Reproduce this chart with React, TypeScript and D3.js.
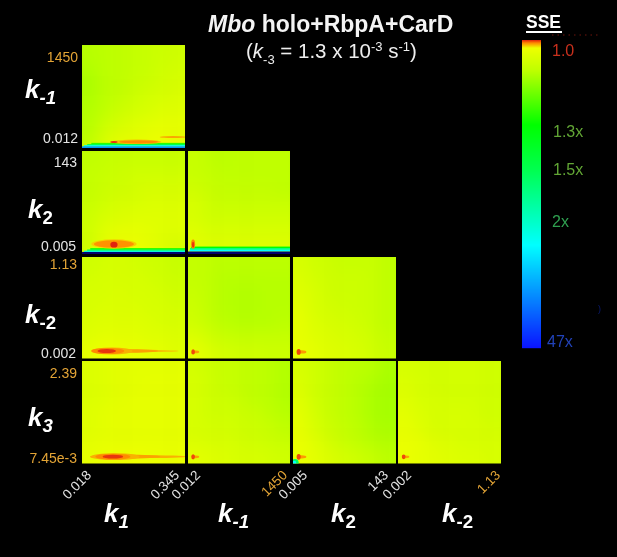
import React from "react";
import * as d3 from "d3";

const FONT = "'Liberation Sans', Arial, sans-serif";
const ORANGE = "#e3a436";
const PALE = "#e4e4e4";

const ratioStops = [1, 1.005, 1.02, 1.08, 1.3, 1.5, 2, 3, 47, 300];
const colorStops = ["#e2200c", "#ff8a00", "#eeff00", "#c0ff00", "#00ff00", "#00ff50", "#00ffc8", "#00ffff", "#0a14ff", "#00006e"];
const legendRatios = [1, 1.005, 1.02, 1.08, 1.3, 1.5, 2, 3, 47];
const legendPixels = [40, 43, 48, 70, 125, 170, 222, 245, 348];

const panelColumns = [[82, 185], [188, 290], [293, 396], [398, 501]];
const panelRows = [[45, 148], [151, 254], [257, 358.5], [361, 463.5]];

// relative SSE on a coarse log-log grid, top row first
const gridK1K1m = [
  [1.09, 1.085, 1.08, 1.075, 1.07, 1.065, 1.06],
  [1.095, 1.085, 1.08, 1.075, 1.07, 1.06, 1.055],
  [1.105, 1.085, 1.08, 1.07, 1.065, 1.055, 1.05],
  [1.10, 1.085, 1.075, 1.065, 1.055, 1.05, 1.045],
  [1.095, 1.08, 1.065, 1.055, 1.05, 1.04, 1.04],
  [1.09, 1.065, 1.05, 1.04, 1.035, 1.03, 1.03],
  [1.08, 1.05, 1.03, 1.03, 1.025, 1.02, 1.03],
];
const gridK1K2 = [
  [1.08, 1.075, 1.07, 1.07, 1.07, 1.07, 1.07],
  [1.075, 1.07, 1.065, 1.06, 1.06, 1.06, 1.06],
  [1.075, 1.065, 1.06, 1.055, 1.05, 1.05, 1.05],
  [1.07, 1.06, 1.05, 1.05, 1.045, 1.045, 1.045],
  [1.065, 1.05, 1.045, 1.04, 1.04, 1.04, 1.04],
  [1.06, 1.04, 1.03, 1.03, 1.035, 1.04, 1.04],
  [1.06, 1.03, 1.02, 1.02, 1.03, 1.04, 1.05],
];
const gridK1mK2 = [
  [1.07, 1.08, 1.085, 1.08, 1.08, 1.08, 1.08],
  [1.07, 1.075, 1.08, 1.08, 1.08, 1.08, 1.08],
  [1.06, 1.07, 1.075, 1.075, 1.075, 1.075, 1.08],
  [1.05, 1.065, 1.07, 1.07, 1.07, 1.07, 1.07],
  [1.05, 1.06, 1.06, 1.06, 1.06, 1.06, 1.06],
  [1.04, 1.05, 1.05, 1.05, 1.05, 1.05, 1.05],
  [1.03, 1.04, 1.04, 1.04, 1.04, 1.04, 1.04],
];
const gridK1K2m = [
  [1.06, 1.055, 1.05, 1.055, 1.06, 1.065, 1.07],
  [1.055, 1.05, 1.05, 1.05, 1.055, 1.06, 1.065],
  [1.05, 1.05, 1.045, 1.05, 1.05, 1.055, 1.06],
  [1.05, 1.045, 1.045, 1.045, 1.05, 1.05, 1.055],
  [1.045, 1.04, 1.04, 1.04, 1.045, 1.05, 1.05],
  [1.04, 1.035, 1.035, 1.035, 1.04, 1.04, 1.045],
  [1.03, 1.02, 1.02, 1.025, 1.03, 1.035, 1.04],
];
const gridK1mK2m = [
  [1.075, 1.08, 1.085, 1.085, 1.085, 1.085, 1.085],
  [1.075, 1.08, 1.09, 1.09, 1.09, 1.09, 1.09],
  [1.07, 1.08, 1.09, 1.095, 1.095, 1.09, 1.09],
  [1.065, 1.08, 1.09, 1.095, 1.095, 1.09, 1.09],
  [1.06, 1.075, 1.085, 1.09, 1.09, 1.09, 1.085],
  [1.045, 1.06, 1.07, 1.075, 1.075, 1.075, 1.075],
  [1.03, 1.045, 1.055, 1.06, 1.06, 1.065, 1.065],
];
const gridK2K2m = [
  [1.05, 1.06, 1.065, 1.07, 1.07, 1.07, 1.08],
  [1.045, 1.055, 1.06, 1.065, 1.065, 1.07, 1.08],
  [1.04, 1.05, 1.06, 1.065, 1.065, 1.07, 1.08],
  [1.035, 1.05, 1.055, 1.06, 1.065, 1.07, 1.08],
  [1.03, 1.045, 1.05, 1.055, 1.06, 1.07, 1.08],
  [1.03, 1.04, 1.045, 1.05, 1.055, 1.065, 1.075],
  [1.025, 1.035, 1.04, 1.045, 1.05, 1.06, 1.07],
];
const gridK1K3 = [
  [1.045, 1.04, 1.035, 1.035, 1.035, 1.035, 1.035],
  [1.045, 1.04, 1.035, 1.035, 1.03, 1.03, 1.03],
  [1.045, 1.04, 1.035, 1.03, 1.03, 1.03, 1.03],
  [1.04, 1.035, 1.03, 1.03, 1.03, 1.03, 1.03],
  [1.04, 1.035, 1.03, 1.03, 1.03, 1.03, 1.03],
  [1.035, 1.03, 1.03, 1.03, 1.03, 1.03, 1.03],
  [1.03, 1.025, 1.02, 1.02, 1.022, 1.025, 1.025],
];
const gridK1mK3 = [
  [1.055, 1.065, 1.07, 1.075, 1.08, 1.085, 1.095],
  [1.05, 1.06, 1.07, 1.075, 1.08, 1.085, 1.095],
  [1.05, 1.06, 1.065, 1.07, 1.08, 1.085, 1.095],
  [1.05, 1.06, 1.06, 1.065, 1.07, 1.08, 1.09],
  [1.05, 1.055, 1.055, 1.06, 1.065, 1.07, 1.08],
  [1.045, 1.05, 1.05, 1.055, 1.06, 1.065, 1.07],
  [1.035, 1.04, 1.045, 1.05, 1.05, 1.055, 1.06],
];
const gridK2K3 = [
  [1.05, 1.06, 1.07, 1.08, 1.085, 1.09, 1.105],
  [1.045, 1.06, 1.07, 1.08, 1.09, 1.10, 1.11],
  [1.04, 1.06, 1.07, 1.08, 1.09, 1.105, 1.11],
  [1.035, 1.055, 1.07, 1.08, 1.09, 1.105, 1.11],
  [1.03, 1.05, 1.065, 1.075, 1.085, 1.10, 1.105],
  [1.025, 1.04, 1.055, 1.07, 1.08, 1.09, 1.095],
  [1.025, 1.035, 1.045, 1.055, 1.065, 1.075, 1.085],
];
const gridK2mK3 = [
  [1.05, 1.055, 1.055, 1.055, 1.055, 1.055, 1.06],
  [1.045, 1.05, 1.055, 1.055, 1.055, 1.055, 1.06],
  [1.04, 1.05, 1.05, 1.055, 1.055, 1.055, 1.06],
  [1.035, 1.045, 1.05, 1.05, 1.05, 1.055, 1.06],
  [1.03, 1.04, 1.05, 1.05, 1.05, 1.05, 1.055],
  [1.025, 1.03, 1.04, 1.045, 1.05, 1.05, 1.05],
  [1.025, 1.03, 1.035, 1.04, 1.045, 1.045, 1.05],
];

// bands along the low edge: [x from, y from, y to, relative SSE] in fractions of the log axis ranges
const bandsK1K1m = [[0.09, 0.032, 0.05, 1.25], [0.05, 0.024, 0.038, 1.5], [0.02, 0.014, 0.028, 2.7], [0, -0.03, 0.016, 22]];
const bandsK1K2 = [[0.08, 0.04, 0.058, 1.25], [0.05, 0.03, 0.044, 1.55], [0.02, 0.02, 0.032, 2.7], [0, -0.03, 0.02, 300]];
const bandsK1mK2 = [[0.03, 0.055, 0.072, 1.3], [0.02, 0.04, 0.058, 1.7], [0.015, 0.024, 0.042, 3], [0, -0.03, 0.024, 300]];
const noBands: number[][] = [];

// minima: [centre x, centre y, radius x, radius y, relative SSE] in fractions of the log axis ranges
const blobsK1K1m = [[0.53, 0.06, 0.24, 0.022, 1.012], [0.55, 0.06, 0.19, 0.016, 1.005], [0.31, 0.058, 0.035, 0.01, 1.001], [0.885, 0.107, 0.13, 0.007, 1.005]];
const blobsK1K2 = [[0.31, 0.097, 0.22, 0.045, 1.014], [0.31, 0.097, 0.195, 0.036, 1.006], [0.31, 0.09, 0.035, 0.028, 1.0]];
const blobsK1mK2 = [[0.05, 0.095, 0.02, 0.045, 1.005], [0.05, 0.09, 0.011, 0.03, 1.001]];
const blobsK1K2m = [[0.52, 0.074, 0.42, 0.012, 1.012], [0.42, 0.074, 0.32, 0.018, 1.008], [0.29, 0.074, 0.2, 0.034, 1.01], [0.25, 0.074, 0.16, 0.03, 1.005], [0.24, 0.074, 0.09, 0.02, 1.001]];
const blobsK1K3 = [[0.55, 0.067, 0.47, 0.014, 1.01], [0.42, 0.067, 0.34, 0.02, 1.008], [0.32, 0.067, 0.24, 0.032, 1.01], [0.3, 0.067, 0.17, 0.028, 1.005], [0.3, 0.067, 0.1, 0.018, 1.001]];
const blobsMarkA = [[0.075, 0.065, 0.035, 0.014, 1.008], [0.05, 0.065, 0.018, 0.026, 1.002]];
const blobsMarkB = [[0.085, 0.065, 0.045, 0.016, 1.007], [0.055, 0.065, 0.02, 0.028, 1.002]];
const blobsK2K3 = [[0.085, 0.065, 0.045, 0.016, 1.007], [0.055, 0.065, 0.02, 0.028, 1.002], [0.02, 0.01, 0.035, 0.035, 1.6], [0.012, 0.005, 0.02, 0.022, 3]];
const blobsK2mK3 = [[0.075, 0.065, 0.035, 0.014, 1.008], [0.055, 0.065, 0.018, 0.024, 1.002]];

const panelGrids = [
  [gridK1K1m], [gridK1K2, gridK1mK2], [gridK1K2m, gridK1mK2m, gridK2K2m], [gridK1K3, gridK1mK3, gridK2K3, gridK2mK3],
];
const panelBands = [
  [bandsK1K1m], [bandsK1K2, bandsK1mK2], [noBands, noBands, noBands], [noBands, noBands, noBands, noBands],
];
const panelBlobs = [
  [blobsK1K1m], [blobsK1K2, blobsK1mK2], [blobsK1K2m, blobsMarkA, blobsMarkB], [blobsK1K3, blobsMarkA, blobsK2K3, blobsK2mK3],
];

const rowHigh = ["1450", "143", "1.13", "2.39"];
const rowLow = ["0.012", "0.005", "0.002", "7.45e-3"];
const rowHighColor = [ORANGE, PALE, ORANGE, ORANGE];
const rowLowColor = [PALE, PALE, PALE, ORANGE];
const rowHighBase = [62, 167, 269, 378];
const rowLowBase = [143, 251, 358, 463];
const rowHighRight = [78, 77, 77, 77];
const rowLowRight = [78, 76, 76, 77];
const rowNames = ["-1", "2", "-2", "3"];
const rowNameX = [25, 28, 25, 28];
const rowNameBase = [98, 218, 323, 426];

const colLow = ["0.018", "0.012", "0.005", "0.002"];
const colHigh = ["0.345", "1450", "143", "1.13"];
const colHighColor = [PALE, ORANGE, PALE, ORANGE];
const colLowAnchor = [92, 201, 308, 412];
const colHighAnchor = [180, 288, 389, 501];
const colNames = ["1", "-1", "2", "-2"];
const colNameX = [104, 218, 331, 442];

const legendTicks = ["1.0", "1.3x", "1.5x", "2x", "47x"];
const legendTickX = [552, 553, 553, 552, 547];
const legendTickBase = [56, 137, 175, 227, 347];
const legendTickColor = ["#c8301e", "#62a635", "#62a635", "#2fa050", "#2142b8"];

const color = d3.scaleLinear<string>().domain(ratioStops).range(colorStops).clamp(true);
const legendRatio = d3.scaleLinear().domain(legendPixels).range(legendRatios);

function KLabel({ x, y, sub }: { x: number; y: number; sub: string }) {
  const size = 26;
  const subItalic = sub === "3" || sub === "1" || sub === "-1";
  return (
    <text x={x} y={y} fill="#fff" fontFamily={FONT} fontWeight="bold" fontStyle="italic" fontSize={size}>
      k
      <tspan dy={6} fontSize={size * 0.72} fontStyle={subItalic ? "italic" : "normal"}>{sub}</tspan>
    </text>
  );
}

function Panel({ r, c }: { r: number; c: number }) {
  const [x0, x1] = panelColumns[c];
  const [y0, y1] = panelRows[r];
  const grid = panelGrids[r][c];
  const n = grid.length;
  const band = d3.scaleLinear().domain([0, n]).range([x0, x1]);
  const bandY = d3.scaleLinear().domain([0, n]).range([y0, y1]);
  const fx = d3.scaleLinear().domain([0, 1]).range([x0, x1]);
  const fy = d3.scaleLinear().domain([0, 1]).range([y1, y0]);
  const width = x1 - x0;
  const height = y1 - y0;
  const pad = 14;
  const id = `clip-${r}-${c}`;
  return (
    <g>
      <clipPath id={id}><rect x={x0} y={y0} width={width} height={height} /></clipPath>
      <g clipPath={`url(#${id})`}>
        <g filter="url(#soft)">
          {grid.map((row, i) =>
            row.map((v, j) => {
              const cx0 = j === 0 ? x0 - pad : band(j);
              const cx1 = j === n - 1 ? x1 + pad : band(j + 1);
              const cy0 = i === 0 ? y0 - pad : bandY(i);
              const cy1 = i === n - 1 ? y1 + pad : bandY(i + 1);
              return <rect key={`${i}-${j}`} x={cx0} y={cy0} width={cx1 - cx0 + 0.5} height={cy1 - cy0 + 0.5} fill={color(v)} />;
            })
          )}
        </g>
        <g filter="url(#fine)">
          {panelBands[r][c].map((d, i) => (
            <rect key={i} x={fx(d[0])} width={x1 + 4 - fx(d[0])} y={fy(d[2])} height={fy(d[1]) - fy(d[2])} fill={color(d[3])} />
          ))}
          {panelBlobs[r][c].map((d, i) => (
            <ellipse key={i} cx={fx(d[0])} cy={fy(d[1])} rx={d[2] * width} ry={d[3] * height} fill={color(d[4])} />
          ))}
        </g>
      </g>
    </g>
  );
}

export default function App() {
  const legendRows = d3.range(40, 348);
  return (
    <svg width={617} height={557} viewBox="0 0 617 557" style={{ position: "absolute", left: 0, top: 0, display: "block", background: "#000" }}>
      <defs>
        <filter id="soft" x="-30%" y="-30%" width="160%" height="160%"><feGaussianBlur stdDeviation="7" /></filter>
        <filter id="fine" x="-10%" y="-10%" width="120%" height="120%"><feGaussianBlur stdDeviation="0.6" /></filter>
        <filter id="textsoft" x="-5%" y="-5%" width="110%" height="110%"><feGaussianBlur stdDeviation="0.3" /></filter>
      </defs>
      <rect width={617} height={557} fill="#000" />
      {panelGrids.map((row, r) => row.map((_, c) => <Panel key={`${r}-${c}`} r={r} c={c} />))}

      <g filter="url(#textsoft)">
        <text x={208} y={32} fill="#f4f4f4" fontFamily={FONT} fontWeight="bold" fontSize={23}>
          <tspan fontStyle="italic">Mbo</tspan> holo+RbpA+CarD
        </text>
        <text x={246} y={58} fill="#eee" fontFamily={FONT} fontSize={20.5}>
          (<tspan fontStyle="italic">k</tspan>
          <tspan dy={6} fontSize={13}>-3</tspan>
          <tspan dy={-6}> = 1.3 x 10</tspan>
          <tspan dy={-7} fontSize={13}>-3</tspan>
          <tspan dy={7}> s</tspan>
          <tspan dy={-7} fontSize={13}>-1</tspan>
          <tspan dy={7}>)</tspan>
        </text>

        {rowHigh.map((t, i) => (
          <text key={t} x={rowHighRight[i]} y={rowHighBase[i]} textAnchor="end" fill={rowHighColor[i]} fontFamily={FONT} fontSize={14}>{t}</text>
        ))}
        {rowLow.map((t, i) => (
          <text key={t} x={rowLowRight[i]} y={rowLowBase[i]} textAnchor="end" fill={rowLowColor[i]} fontFamily={FONT} fontSize={14}>{t}</text>
        ))}
        {rowNames.map((t, i) => <KLabel key={i} x={rowNameX[i]} y={rowNameBase[i]} sub={t} />)}

        {colLow.map((t, i) => (
          <text key={t} transform={`translate(${colLowAnchor[i]},476) rotate(-45)`} textAnchor="end" fill={PALE} fontFamily={FONT} fontSize={13.5}>{t}</text>
        ))}
        {colHigh.map((t, i) => (
          <text key={t} transform={`translate(${colHighAnchor[i]},476) rotate(-45)`} textAnchor="end" fill={colHighColor[i]} fontFamily={FONT} fontSize={13.5}>{t}</text>
        ))}
        {colNames.map((t, i) => <KLabel key={i} x={colNameX[i]} y={522} sub={t} />)}

        <text x={526} y={28} fill="#fff" fontFamily={FONT} fontWeight="bold" fontSize={17.5}>SSE</text>
        {legendTicks.map((t, i) => (
          <text key={t} x={legendTickX[i]} y={legendTickBase[i]} fill={legendTickColor[i]} fontFamily={FONT} fontSize={16}>{t}</text>
        ))}
      </g>
      <rect x={526} y={31} width={36} height={2} fill="#fff" />
      <line x1={552} x2={598} y1={35} y2={35} stroke="#8a1a10" strokeWidth={0.8} strokeDasharray="1.5 4" />
      <text x={598} y={312} fill="#0a1a70" fontFamily={FONT} fontSize={9}>)</text>
      <g>
        {legendRows.map((y) => (
          <rect key={y} x={522} y={y} width={19} height={1.2} fill={color(legendRatio(y + 0.5))} />
        ))}
      </g>
    </svg>
  );
}
